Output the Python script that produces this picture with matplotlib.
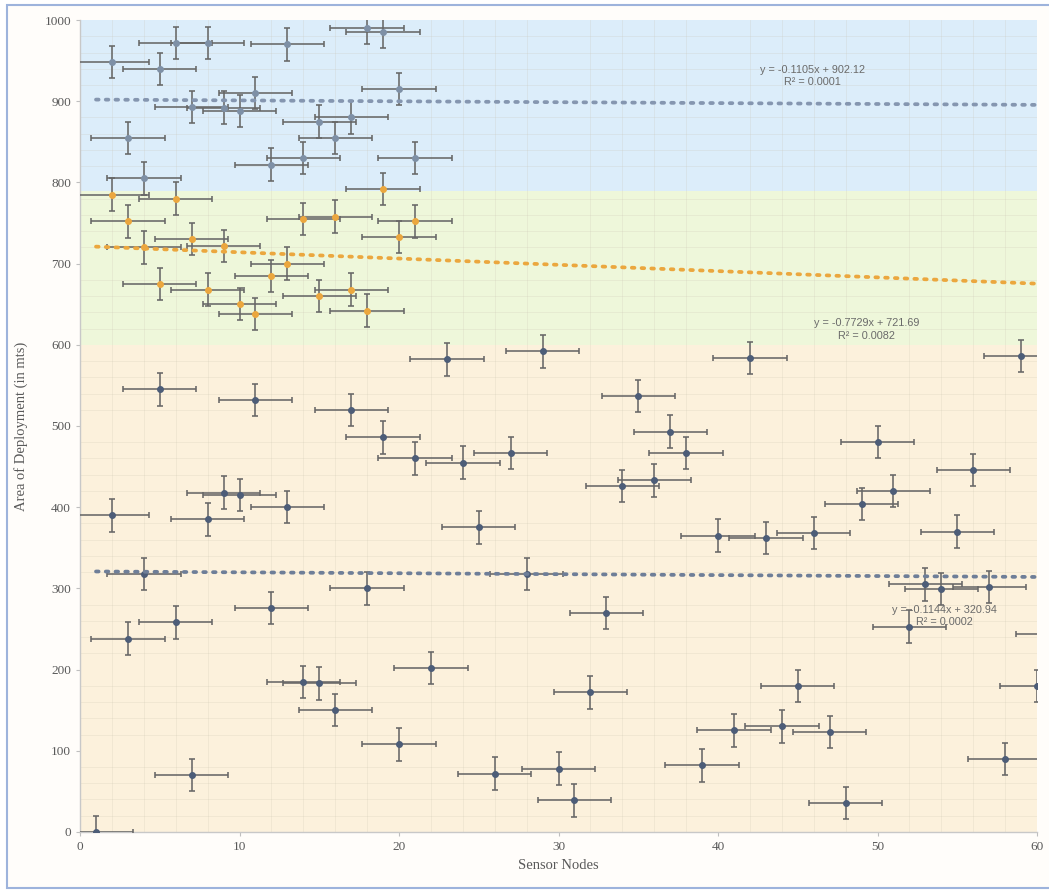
import matplotlib
matplotlib.use("Agg")
import matplotlib.pyplot as plt
from matplotlib.patches import Rectangle
import numpy as np

# Sensor nodes deployed in the upper zone (blue band)
upper_nodes = [2, 3, 4, 5, 6, 7, 8, 9, 10, 11, 12, 13, 14, 15, 16, 17, 18, 19, 20, 21]
upper_area = [948, 855, 805, 940, 972, 893, 972, 892, 888, 910,
              822, 970, 830, 875, 855, 880, 990, 985, 915, 830]

# Sensor nodes in the middle zone (green band)
middle_nodes = [2, 3, 4, 5, 6, 7, 8, 9, 10, 11, 12, 13, 14, 15, 16, 17, 18, 19, 20, 21]
middle_area = [785, 752, 720, 675, 780, 730, 668, 722, 650, 638,
               685, 700, 755, 660, 758, 668, 642, 792, 733, 752]

# Sensor nodes in the lower zone (orange band)
lower_nodes = [1, 2, 3, 4, 5, 6, 7, 8, 9, 10, 11, 12, 13, 14, 15, 16, 17, 18, 19, 20,
               21, 22, 23, 24, 25, 26, 27, 28, 29, 30, 31, 32, 33, 34, 35, 36, 37, 38, 39, 40,
               41, 42, 43, 44, 45, 46, 47, 48, 49, 50, 51, 52, 53, 54, 55, 56, 57, 58, 59, 60, 61]
lower_area = [0, 390, 238, 318, 545, 258, 70, 385, 418, 415,
              532, 276, 400, 185, 183, 150, 520, 300, 486, 108,
              460, 202, 582, 455, 375, 72, 467, 318, 592, 78,
              39, 172, 270, 426, 537, 433, 493, 467, 82, 365,
              125, 584, 362, 130, 180, 368, 123, 36, 404, 480,
              420, 253, 305, 299, 370, 446, 302, 90, 586, 180, 244]

node_err = 2.3
area_err = 20

# Linear trendlines (slope, intercept, R^2)
upper_fit = (-0.1105, 902.12, 0.0001)
middle_fit = (-0.7729, 721.69, 0.0082)
lower_fit = (-0.1144, 320.94, 0.0002)

# Zone boundaries
zone_bounds = [0, 600, 790, 1000]
zone_colors = ["#fcf1dc", "#eef7da", "#dcedfa"]

fig = plt.figure(figsize=(10.49, 8.9), dpi=100)
fig.patch.set_facecolor("white")
fig.patches.append(Rectangle((0.007, 0.002), 1.0, 0.992, transform=fig.transFigure,
                             facecolor="#fffdfa", edgecolor="#9db3dc", linewidth=1.5, zorder=-10))

ax = fig.add_axes([0.0763, 0.0652, 0.9123, 0.9123])
ax.set_facecolor("none")

for lo, hi, c in zip(zone_bounds[:-1], zone_bounds[1:], zone_colors):
    ax.axhspan(lo, hi, color=c, zorder=0, linewidth=0)

# faint grid lines across the bands
ax.set_xticks(np.arange(0, 61, 2), minor=True)
ax.set_yticks(np.arange(0, 1001, 20), minor=True)
ax.grid(which="minor", color="#c9c2b0", alpha=0.25, linewidth=0.6, zorder=1)

eb_style = dict(fmt="none", ecolor="#676767", elinewidth=1.15, capsize=2.5, capthick=1.15, zorder=3)

ax.errorbar(upper_nodes, upper_area, xerr=node_err, yerr=area_err, **eb_style)
ax.errorbar(middle_nodes, middle_area, xerr=node_err, yerr=area_err, **eb_style)
ax.errorbar(lower_nodes, lower_area, xerr=node_err, yerr=area_err, **eb_style)

ax.plot(upper_nodes, upper_area, "o", ms=4, color="#7e90a6", zorder=4)
ax.plot(middle_nodes, middle_area, "o", ms=4, color="#eba73e", zorder=4)
ax.plot(lower_nodes, lower_area, "o", ms=4, color="#4d5d78", zorder=4)

trend_x = np.array([1, 60])
dot = (0, (0.7, 1.9))
for (m, b, r2), col, tx, ty in [
    (upper_fit, "#8596b0", 45.9, 931),
    (middle_fit, "#eba73e", 49.3, 619),
    (lower_fit, "#6e7e98", 54.2, 266),
]:
    ax.plot(trend_x, m * trend_x + b, linestyle=dot, linewidth=2.7, color=col,
            dash_capstyle="round", zorder=5)
    sign = "+" if b >= 0 else "-"
    ax.text(tx, ty, f"y = {m:.4f}x {sign} {abs(b):.2f}\nR² = {r2:.4f}",
            ha="center", va="center", fontsize=7.8, color="#6a6a6a",
            family="Liberation Sans", linespacing=1.35, zorder=6)

ax.set_xlim(0, 60)
ax.set_ylim(0, 1000)
ax.set_xticks(np.arange(0, 61, 10))
ax.set_yticks(np.arange(0, 1001, 100))

for s in ["top", "right"]:
    ax.spines[s].set_visible(False)
for s in ["left", "bottom"]:
    ax.spines[s].set_color("#c8c8c8")
    ax.spines[s].set_linewidth(1.0)

ax.tick_params(which="major", length=3, color="#bfbfbf", labelsize=9.5, labelcolor="#595959")
ax.tick_params(which="minor", length=0)
for lbl in ax.get_xticklabels() + ax.get_yticklabels():
    lbl.set_family("Liberation Serif")

ax.set_xlabel("Sensor Nodes", fontsize=10.5, color="#595959", family="Liberation Serif", labelpad=4)
ax.set_ylabel("Area of Deployment (in mts)", fontsize=10.5, color="#595959",
              family="Liberation Serif", labelpad=12)

fig.savefig("out.png", dpi=100)
